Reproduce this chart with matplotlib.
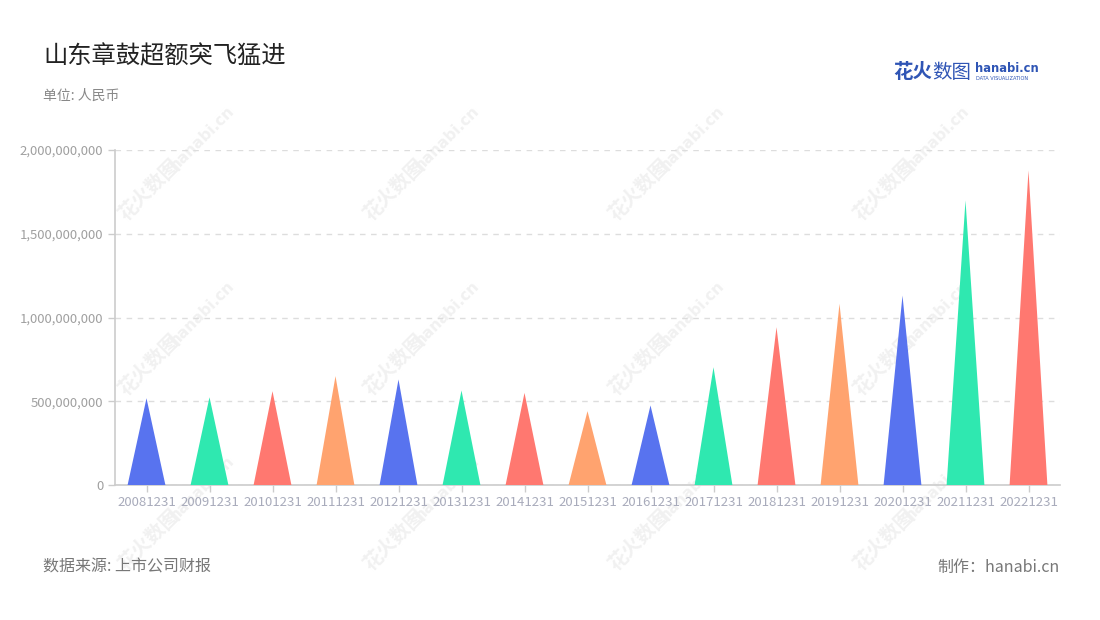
import matplotlib
matplotlib.use('Agg')
import matplotlib.pyplot as plt
from matplotlib.patches import Polygon
from matplotlib.ticker import FuncFormatter

plt.rcParams['font.family'] = ['Noto Sans CJK SC', 'DejaVu Sans']

# data
dates = ['20081231', '20091231', '20101231', '20111231', '20121231',
         '20131231', '20141231', '20151231', '20161231', '20171231',
         '20181231', '20191231', '20201231', '20211231', '20221231']
values = [518e6, 524e6, 560e6, 650e6, 630e6,
          564e6, 550e6, 441e6, 475e6, 703e6,
          942e6, 1082e6, 1131e6, 1699e6, 1878e6]
palette = ['#5873EF', '#2FE8B0', '#FF7870', '#FFA36F']

W, H = 1100, 620
fig = plt.figure(figsize=(W / 100, H / 100), dpi=100)
fig.patch.set_facecolor('white')

# faint watermarks, behind the axes
for cx in [150, 395, 640, 885]:
    for cy in [190, 365, 540]:
        fig.text(cx / W, 1 - cy / H, '花火数图', rotation=45, fontsize=14,
                 color='#f1f1f1', ha='center', va='center', fontweight='bold', zorder=-5)
        fig.text((cx + 52) / W, 1 - (cy - 52) / H, 'hanabi.cn', rotation=45, fontsize=11,
                 color='#f1f1f1', ha='center', va='center', fontweight='bold', zorder=-5,
                 family='DejaVu Sans')

ax = fig.add_axes([115 / W, 1 - 485 / H, 945 / W, 335 / H])
ax.set_facecolor('none')
ax.set_zorder(1)

half = 0.3
for i, v in enumerate(values):
    tri = Polygon([(i - half, 0), (i, v), (i + half, 0)], closed=True,
                  facecolor=palette[i % 4], edgecolor='none', zorder=3)
    ax.add_patch(tri)

ax.set_xlim(-0.5, len(dates) - 0.5)
ax.set_ylim(0, 2e9)
ax.set_xticks(range(len(dates)))
ax.set_xticklabels(dates)
ax.set_yticks([0, 5e8, 1e9, 1.5e9, 2e9])
ax.yaxis.set_major_formatter(FuncFormatter(lambda v, p: f'{int(v):,}'))

ax.grid(axis='y', color='#dddddd', linestyle=(0, (4, 4)), linewidth=1)
ax.set_axisbelow(True)
for s in ['top', 'right']:
    ax.spines[s].set_visible(False)
ax.spines['left'].set_color('#cccccc')
ax.spines['bottom'].set_color('#cccccc')
ax.spines['left'].set_linewidth(1.2)
ax.spines['bottom'].set_linewidth(1.2)
ax.tick_params(axis='y', colors='#cccccc', labelcolor='#a0a0a0', labelsize=9.5,
               length=5, width=1)
ax.tick_params(axis='x', colors='#cccccc', labelcolor='#a8abbb', labelsize=9.5,
               length=5, width=1, pad=3)

# titles
fig.text(43 / W, 1 - 56 / H, '山东章鼓超额突飞猛进', fontsize=17.5, color='#222222',
         ha='left', va='center')
fig.text(43 / W, 1 - 96 / H, '单位: 人民币', fontsize=10, color='#888888',
         ha='left', va='center')

# logo
fig.text(893 / W, 1 - 72 / H, '花火', fontsize=14, color='#2f55b5', fontweight='bold',
         ha='left', va='center')
fig.text(932 / W, 1 - 72 / H, '数图', fontsize=14, color='#2f55b5',
         ha='left', va='center')
fig.text(975 / W, 1 - 69 / H, 'hanabi.cn', fontsize=8.3, color='#2f55b5', fontweight='bold',
         ha='left', va='center', family='DejaVu Sans')
fig.text(976 / W, 1 - 79 / H, 'DATA VISUALIZATION', fontsize=3.6, color='#2f55b5',
         ha='left', va='center', family='DejaVu Sans')

# footer
fig.text(43 / W, 1 - 567 / H, '数据来源: 上市公司财报', fontsize=11.5, color='#777777',
         ha='left', va='center')
fig.text(1060 / W, 1 - 567 / H, '制作：hanabi.cn', fontsize=11.5, color='#777777',
         ha='right', va='center')

fig.savefig('out.png', dpi=100, facecolor='white')
